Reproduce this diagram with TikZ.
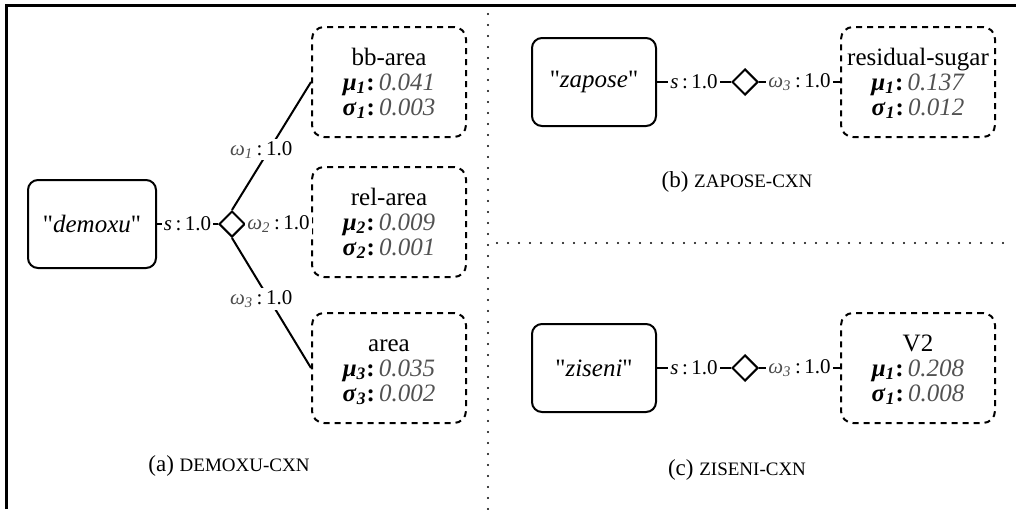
\documentclass[tikz,border=0pt]{standalone}
\usepackage{fontspec}
\setmainfont{Liberation Serif}
\usepackage{xcolor}
\usetikzlibrary{shapes.geometric}

\definecolor{valgray}{gray}{0.32}
\newcommand{\tightlines}{\lineskiplimit=-20pt\relax}
\newcommand{\wt}[1]{\textcolor{black!70}{\textit{ω}\textsubscript{\textit{#1}}}\,:\,1.0}
\newcommand{\fv}[3]{\textbf{\textit{#1}\textsubscript{\textit{#2}}:}\,\textcolor{valgray}{\textit{#3}}}
\newcommand{\qt}[1]{\textquotedbl\textit{#1}\textquotedbl}

\tikzset{
  every node/.style={font=\fontsize{12.5}{12.5}\selectfont\tightlines},
  word/.style={draw, line width=1pt, rounded corners=5pt, minimum width=62pt, minimum height=44pt},
  feat/.style={draw, dash pattern=on 3pt off 2.5pt, line width=1pt, rounded corners=6pt,
    minimum width=77pt, minimum height=55pt, align=center, inner sep=1pt,
    text height=38pt, text depth=5pt},
  hub/.style={draw, diamond, line width=1pt, minimum size=13pt, inner sep=0pt},
  lbl/.style={fill=white, inner sep=1pt, font=\fontsize{10.5}{10.5}\selectfont},
  conn/.style={line width=1pt},
  sep/.style={line width=1.1pt, dash pattern=on 0pt off 5.5pt, line cap=round},
  frame/.style={line width=1.5pt},
  capt/.style={font=\fontsize{11.5}{11.5}\selectfont},
}

\begin{document}
\begin{tikzpicture}[x=0.5pt, y=-0.5pt]
  \useasboundingbox (0,0) rectangle (1016,509);
  \draw[frame] (6,509) -- (6,5) -- (1016,5);
  \draw[sep] (488,14) -- (488,509);
  \draw[sep] (497,243) -- (1010,243);

  % (a)
  \node[word, minimum width=64pt] (demoxu) at (92,224) {\qt{demoxu}};
  \node[hub] (d1) at (232,224) {};
  \node[feat] (bbarea) at (389,82) {bb-area\\ \fv{μ}{1}{0.041}\\ \fv{σ}{1}{0.003}};
  \node[feat] (relarea) at (389,222) {rel-area\\ \fv{μ}{2}{0.009}\\ \fv{σ}{2}{0.001}};
  \node[feat] (area) at (389,368) {area\\ \fv{μ}{3}{0.035}\\ \fv{σ}{3}{0.002}};
  \draw[conn] (demoxu.east) -- node[lbl] {\textit{s}\,:\,1.0} (d1.west);
  \draw[conn] (d1.north) -- node[lbl, pos=0.47, xshift=-4pt] {\wt{1}} (bbarea.west);
  \draw[conn] (d1.east) -- node[lbl] {\wt{2}} (d1.east -| relarea.west);
  \draw[conn] (d1.south) -- node[lbl, pos=0.47, xshift=-4pt] {\wt{3}} (area.west);
  \node[capt] (capa) at (229,466) {(a) {\fontsize{9.5}{9.5}\selectfont DEMOXU-CXN}};

  % (b)
  \node[word] (zapose) at (594,82) {\qt{zapose}};
  \node[hub] (d2) at (745,82) {};
  \node[feat] (sugar) at (918,82) {residual-sugar\\ \fv{μ}{1}{0.137}\\ \fv{σ}{1}{0.012}};
  \draw[conn] (zapose.east) -- node[lbl] {\textit{s}\,:\,1.0} (d2.west);
  \draw[conn] (d2.east) -- node[lbl] {\wt{3}} (sugar.west);
  \node[capt] (capb) at (737,182) {(b) {\fontsize{9.5}{9.5}\selectfont ZAPOSE-CXN}};

  % (c)
  \node[word] (ziseni) at (594,368) {\qt{ziseni}};
  \node[hub] (d3) at (745,368) {};
  \node[feat] (vtwo) at (918,368) {V2\\ \fv{μ}{1}{0.208}\\ \fv{σ}{1}{0.008}};
  \draw[conn] (ziseni.east) -- node[lbl] {\textit{s}\,:\,1.0} (d3.west);
  \draw[conn] (d3.east) -- node[lbl] {\wt{3}} (vtwo.west);
  \node[capt] (capc) at (737,470) {(c) {\fontsize{9.5}{9.5}\selectfont ZISENI-CXN}};
\end{tikzpicture}
\end{document}
